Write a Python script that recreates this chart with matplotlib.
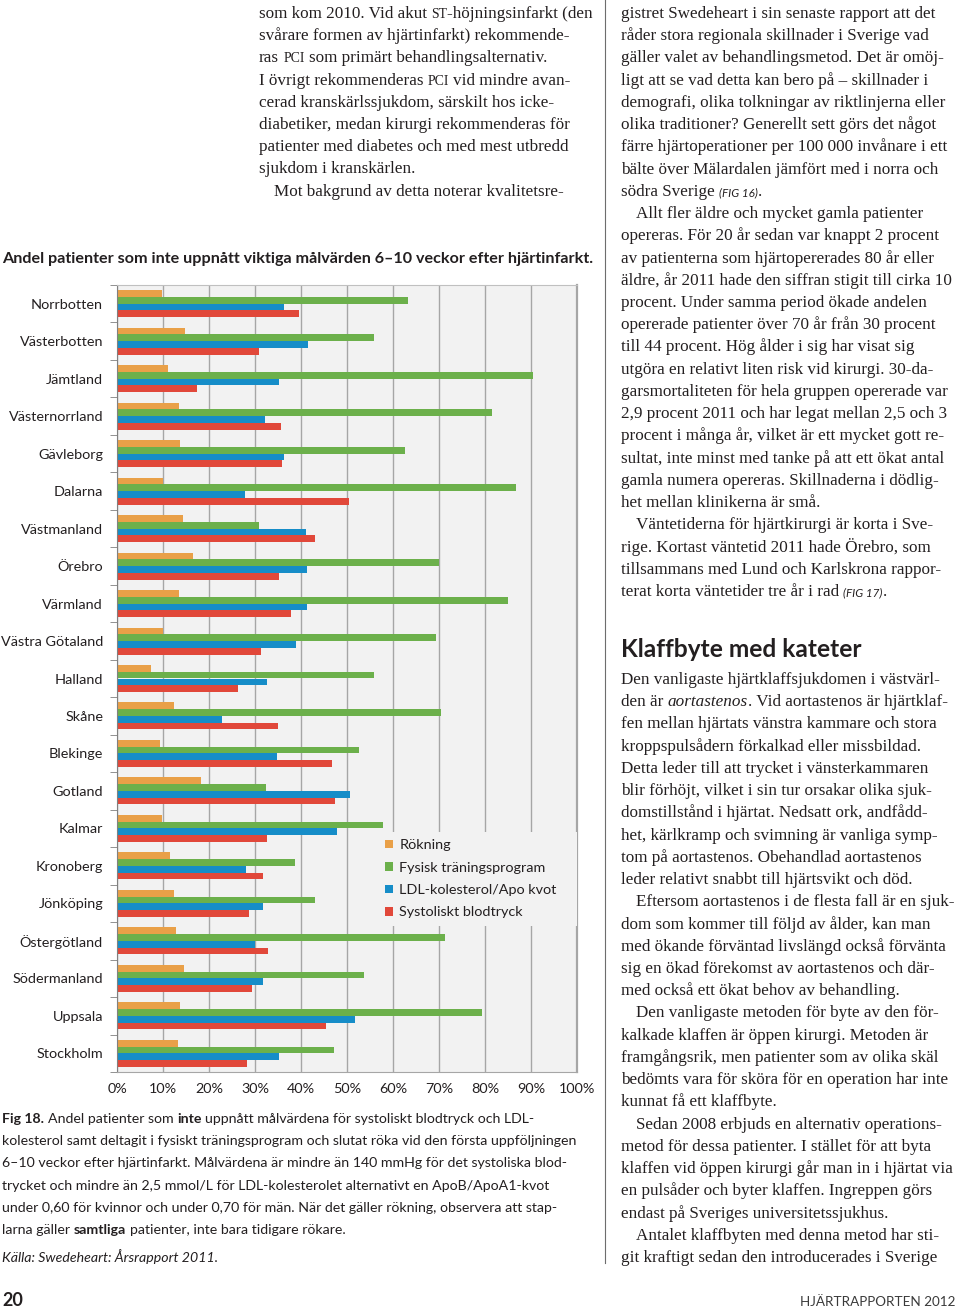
import re
import numpy as np
import matplotlib
matplotlib.use("Agg")
import matplotlib.pyplot as plt
from matplotlib.font_manager import FontProperties
from matplotlib.lines import Line2D

# --- page geometry (pixels) ---
W, H = 960, 1312
SANS = ["Lato", "DejaVu Sans"]
SERIF = ["Liberation Serif", "DejaVu Serif"]
INK = "#231f20"

# --- chart data (percent of patients not reaching target) ---
regions = ["Norrbotten", "Västerbotten", "Jämtland", "Västernorrland", "Gävleborg",
           "Dalarna", "Västmanland", "Örebro", "Värmland", "Västra Götaland",
           "Halland", "Skåne", "Blekinge", "Gotland", "Kalmar", "Kronoberg",
           "Jönköping", "Östergötland", "Södermanland", "Uppsala", "Stockholm"]
rokning = [9.7, 14.8, 11.0, 13.5, 13.6, 10.0, 14.3, 16.5, 13.5, 10.0, 7.4,
           12.4, 9.3, 18.2, 9.8, 11.5, 12.3, 12.9, 14.5, 13.8, 13.3]
fysisk = [63.3, 55.9, 90.5, 81.5, 62.6, 86.8, 30.8, 70.0, 84.9, 69.3, 55.9,
          70.5, 52.7, 32.4, 57.8, 38.7, 43.0, 71.3, 53.8, 79.4, 47.1]
ldl = [36.3, 41.5, 35.3, 32.2, 36.2, 27.8, 41.0, 41.3, 41.2, 38.9, 32.7,
       22.8, 34.8, 50.7, 47.9, 28.0, 31.8, 30.0, 31.7, 51.7, 35.2]
blodtryck = [39.6, 30.8, 17.3, 35.7, 35.8, 50.4, 43.0, 35.3, 37.8, 31.4, 26.2,
             35.1, 46.8, 47.4, 32.5, 31.8, 28.8, 32.8, 29.4, 45.4, 28.3]
series_names = ["Rökning", "Fysisk träningsprogram", "LDL-kolesterol/Apo kvot",
                "Systoliskt blodtryck"]
series_colors = ["#e9a048", "#6cb04b", "#168dc8", "#e1483a"]
x_ticks = list(range(0, 101, 10))
x_labels = [f"{v}%" for v in x_ticks]

chart_title = "Andel patienter som inte uppnått viktiga målvärden 6–10 veckor efter hjärtinfarkt."

# --- page text (markup: **bold**, *italic*, ^small caps^, ~figure ref~, > indent) ---
middle_col = [
    "som kom 2010. Vid akut ^st^-höjningsinfarkt (den",
    "svårare formen av hjärtinfarkt) rekommende-",
    "ras ^pci^ som primärt behandlingsalternativ.",
    "I övrigt rekommenderas ^pci^ vid mindre avan-",
    "cerad kranskärlssjukdom, särskilt hos icke-",
    "diabetiker, medan kirurgi rekommenderas för",
    "patienter med diabetes och med mest utbredd",
    "sjukdom i kranskärlen.",
    ">Mot bakgrund av detta noterar kvalitetsre-",
]
right_top = [
    "gistret Swedeheart i sin senaste rapport att det",
    "råder stora regionala skillnader i Sverige vad",
    "gäller valet av behandlingsmetod. Det är omöj-",
    "ligt att se vad detta kan bero på – skillnader i",
    "demografi, olika tolkningar av riktlinjerna eller",
    "olika traditioner? Generellt sett görs det något",
    "färre hjärtoperationer per 100 000 invånare i ett",
    "bälte över Mälardalen jämfört med i norra och",
    "södra Sverige ~(FIG 16)~.",
    ">Allt fler äldre och mycket gamla patienter",
    "opereras. För 20 år sedan var knappt 2 procent",
    "av patienterna som hjärtopererades 80 år eller",
    "äldre, år 2011 hade den siffran stigit till cirka 10",
    "procent. Under samma period ökade andelen",
    "opererade patienter över 70 år från 30 procent",
    "till 44 procent. Hög ålder i sig har visat sig",
    "utgöra en relativt liten risk vid kirurgi. 30-da-",
    "garsmortaliteten för hela gruppen opererade var",
    "2,9 procent 2011 och har legat mellan 2,5 och 3",
    "procent i många år, vilket är ett mycket gott re-",
    "sultat, inte minst med tanke på att ett ökat antal",
    "gamla numera opereras. Skillnaderna i dödlig-",
    "het mellan klinikerna är små.",
    ">Väntetiderna för hjärtkirurgi är korta i Sve-",
    "rige. Kortast väntetid 2011 hade Örebro, som",
    "tillsammans med Lund och Karlskrona rappor-",
    "terat korta väntetider tre år i rad ~(FIG 17)~.",
]
heading = "Klaffbyte med kateter"
right_bottom = [
    "Den vanligaste hjärtklaffsjukdomen i västvärl-",
    "den är *aortastenos*. Vid aortastenos är hjärtklaf-",
    "fen mellan hjärtats vänstra kammare och stora",
    "kroppspulsådern förkalkad eller missbildad.",
    "Detta leder till att trycket i vänsterkammaren",
    "blir förhöjt, vilket i sin tur orsakar olika sjuk-",
    "domstillstånd i hjärtat. Nedsatt ork, andfådd-",
    "het, kärlkramp och svimning är vanliga symp-",
    "tom på aortastenos. Obehandlad aortastenos",
    "leder relativt snabbt till hjärtsvikt och död.",
    ">Eftersom aortastenos i de flesta fall är en sjuk-",
    "dom som kommer till följd av ålder, kan man",
    "med ökande förväntad livslängd också förvänta",
    "sig en ökad förekomst av aortastenos och där-",
    "med också ett ökat behov av behandling.",
    ">Den vanligaste metoden för byte av den för-",
    "kalkade klaffen är öppen kirurgi. Metoden är",
    "framgångsrik, men patienter som av olika skäl",
    "bedömts vara för sköra för en operation har inte",
    "kunnat få ett klaffbyte.",
    ">Sedan 2008 erbjuds en alternativ operations-",
    "metod för dessa patienter. I stället för att byta",
    "klaffen vid öppen kirurgi går man in i hjärtat via",
    "en pulsåder och byter klaffen. Ingreppen görs",
    "endast på Sveriges universitetssjukhus.",
    ">Antalet klaffbyten med denna metod har sti-",
    "git kraftigt sedan den introducerades i Sverige",
]
caption = [
    "**Fig 18.** Andel patienter som **inte** uppnått målvärdena för systoliskt blodtryck och LDL-",
    "kolesterol samt deltagit i fysiskt träningsprogram och slutat röka vid den första uppföljningen",
    "6–10 veckor efter hjärtinfarkt. Målvärdena är mindre än 140 mmHg för det systoliska blod-",
    "trycket och mindre än 2,5 mmol/L för LDL-kolesterolet alternativt en ApoB/ApoA1-kvot",
    "under 0,60 för kvinnor och under 0,70 för män. När det gäller rökning, observera att stap-",
    "larna gäller **samtliga** patienter, inte bara tidigare rökare.",
]
source = "*Källa: Swedeheart: Årsrapport 2011.*"

plt.rcParams["font.family"] = SANS

fig = plt.figure(figsize=(W / 100, H / 100), dpi=100)
fig.patch.set_facecolor("white")
renderer = fig.canvas.get_renderer()


def fx(x):
    return x / W


def fy(y):
    return 1 - y / H


def props(family, size, weight="normal", style="normal"):
    return FontProperties(family=family, size=size, weight=weight, style=style)


def advance(s, fp):
    # width including spaces, measured between two bars
    w0 = renderer.get_text_width_height_descent("||", fp, ismath=False)[0]
    w1 = renderer.get_text_width_height_descent("|" + s + "|", fp, ismath=False)[0]
    return w1 - w0


def fit(sample, target, family, weight="normal", style="normal"):
    return 10 * target / advance(sample, props(family, 10, weight, style))


TOKEN = re.compile(r"(\*\*.+?\*\*|\*.+?\*|\^.+?\^|~.+?~)")


def runs_of(line, base):
    out = []
    for part in TOKEN.split(line):
        if not part:
            continue
        st = dict(base)
        if part.startswith("**"):
            st["weight"] = "bold"
            part = part[2:-2]
        elif part.startswith("*"):
            st["style"] = "italic"
            part = part[1:-1]
        elif part.startswith("^"):
            st["size"] = base["size"] * 0.8
            part = part[1:-1].upper()
        elif part.startswith("~"):
            st.update(family=SANS, style="italic", size=base["size"] * 0.68)
            part = part[1:-1]
        out.append((part, st))
    return out


def draw_line(x, y, line, base, color=INK):
    for part, st in runs_of(line, base):
        fp = props(st["family"], st["size"], st.get("weight", "normal"), st.get("style", "normal"))
        stripped = part.lstrip(" ")
        lead = advance(part[:len(part) - len(stripped)], fp) if stripped != part else 0
        if stripped.strip():
            fig.text(fx(x + lead), fy(y), stripped.rstrip(" "), fontproperties=fp,
                     color=color, ha="left", va="baseline")
        x += advance(part, fp)


def draw_block(x, y0, pitch, lines, base, indent=15):
    for i, line in enumerate(lines):
        xi = x
        if line.startswith(">"):
            line = line[1:]
            xi += indent
        draw_line(xi, y0 + i * pitch, line, base)


# --- font sizes fitted to the reference line widths ---
body_size = fit("gistret Swedeheart i sin senaste rapport att det", 315, SERIF)
cap_size = fit("kolesterol samt deltagit i fysiskt träningsprogram och slutat röka vid den första uppföljningen", 578, SANS)
label_size = fit("Västernorrland", 95, SANS)
title_size = fit(chart_title, 591, SANS, "bold")
head_size = fit(heading, 241, SANS, "bold")

body = dict(family=SERIF, size=body_size)
cap = dict(family=SANS, size=cap_size)

# --- text columns ---
draw_block(259, 18, 22.2, middle_col, body)
draw_block(621, 18, 22.23, right_top, body)
fig.text(fx(621), fy(657), heading, family=SANS, fontsize=head_size, weight="bold",
         color=INK, ha="left", va="baseline")
draw_block(621, 684, 22.23, right_bottom, body)

# column rule
fig.add_artist(Line2D([fx(605), fx(605)], [fy(0), fy(1263)], color="#6d6d6d", lw=0.8))

# chart title
fig.text(fx(2), fy(263), chart_title, family=SANS, fontsize=title_size, weight="bold",
         color=INK, ha="left", va="baseline")

# caption + source
draw_block(2, 1123, 22.2, caption, cap)
draw_line(2, 1262, source, cap)

# footer
fig.text(fx(2), fy(1306), "20", family=SANS, fontsize=13, weight="bold", color=INK,
         ha="left", va="baseline")
fig.text(fx(955), fy(1306), "HJÄRTRAPPORTEN 2012", family=SANS,
         fontsize=fit("HJÄRTRAPPORTEN 2012", 155, SANS), weight="normal", color="#3a3a3a",
         ha="right", va="baseline")

# --- bar chart ---
ax = fig.add_axes([fx(117), fy(1072), 460 / W, 787 / H])
ax.set_facecolor("#f2f2f2")
ax.set_axisbelow(True)

y = np.arange(len(regions))
offsets = [-0.27, -0.09, 0.09, 0.27]
for vals, off, col, name in zip([rokning, fysisk, ldl, blodtryck], offsets,
                                series_colors, series_names):
    ax.barh(y + off, vals, height=0.18, color=col, label=name, zorder=2)

ax.set_xlim(0, 100)
ax.set_ylim(len(regions) - 0.5, -0.5)
ax.set_xticks(x_ticks, labels=x_labels)
ax.set_yticks(y, labels=regions)
ax.set_yticks(np.arange(len(regions) + 1) - 0.5, minor=True)
ax.tick_params(axis="y", which="major", length=0, pad=10, labelsize=label_size, labelcolor=INK)
ax.tick_params(axis="y", which="minor", length=5, color="#808080", direction="out")
ax.tick_params(axis="x", length=0, pad=8, labelsize=label_size, labelcolor=INK)
ax.xaxis.grid(True, color="#a6a6a6", lw=1)

ax.spines["left"].set_color("#808080")
ax.spines["bottom"].set_color("#a6a6a6")
ax.spines["top"].set_color("#c0c0c0")
ax.spines["right"].set_color("#a6a6a6")
ax.spines["right"].set_linewidth(1.6)

leg_top = 1 - (832 - 285) / 787
ax.legend(loc="upper left", bbox_to_anchor=(0.567, leg_top - 0.001, 0.433, 0.001),
          mode="expand", borderaxespad=0, frameon=True, fancybox=False,
          facecolor="#f2f2f2", edgecolor="none", framealpha=1,
          fontsize=label_size, handlelength=0.55, handleheight=0.55,
          handletextpad=0.45, labelspacing=0.72, borderpad=0.5, labelcolor=INK)

fig.savefig("out.png", dpi=100)
